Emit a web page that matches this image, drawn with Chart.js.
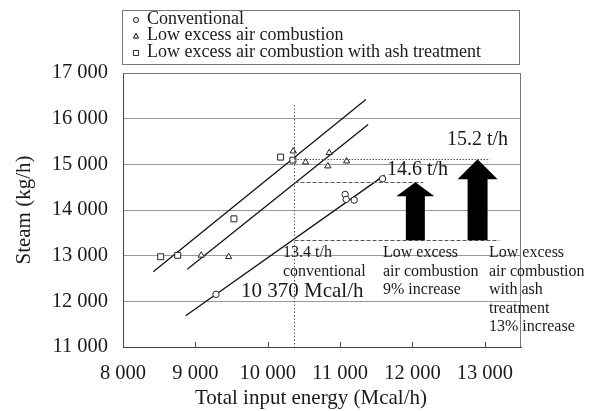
<!DOCTYPE html>
<html>
<head>
<meta charset="utf-8">
<script src="https://cdn.jsdelivr.net/npm/chart.js@4.4.1/dist/chart.umd.min.js"></script>
<style>
  html, body { margin: 0; padding: 0; background: #fff; }
  #wrap { width: 596px; height: 411px; }
</style>
</head>
<body>
<div id="wrap"><canvas id="steamChart"></canvas></div>
<script>
// measured points (Mcal/h, kg/h)
const conventionalEnergy = [9285, 11070, 11084, 11195, 11587];
const conventionalSteam = [12153, 14341, 14232, 14217, 14683];
const lowAirEnergy = [9081, 9460, 10352, 10523, 10849, 10831, 11090];
const lowAirSteam = [13007, 12976, 15289, 15048, 15252, 14961, 15070];
const ashEnergy = [8521, 8756, 9533, 10178, 10348];
const ashSteam = [12976, 13007, 13807, 15158, 15092];

// fitted lines, both ends
const conventionalFitEnergy = [8866, 11615];
const conventionalFitSteam = [11685, 14764];
const lowAirFitEnergy = [8888, 11388];
const lowAirFitSteam = [12700, 15873];
const ashFitEnergy = [8418, 11356];
const ashFitSteam = [12648, 16420];

const seriesNames = ['Conventional', 'Low excess air combustion', 'Low excess air combustion with ash treatment'];
const xTicks = [8000, 9000, 10000, 11000, 12000, 13000];
const yTicks = [11000, 12000, 13000, 14000, 15000, 16000, 17000];

// reference energy and steam levels (13.4, 14.6, 15.2 t/h marks)
const refEnergy = 10370;
const refLineTop = 16300;
const levelSteam = [13340, 14610, 15110];
const levelEnd = [13200, 12150, 13070];
const arrowEnergy = [12040, 12900];
const arrowTo = [14610, 15110];

const serif = "'Liberation Serif', 'DejaVu Serif', serif";
const ink = '#1a1a1a';

const pts = (xs, ys) => xs.map((x, i) => ({ x: x, y: ys[i] }));
const fmt = v => String(v).replace(/\B(?=(\d{3})+(?!\d))/g, ' ');

const markerStyles = ['circle', 'triangle', 'rect'];
const markerRadius = [3.2, 3.6, 4.2];

const notes = [
    { text: '15.2 t/h', x: 447, y: 140, size: 20 },
    { text: '14.6 t/h', x: 387, y: 170, size: 20 },
    { text: '13.4 t/h', x: 283, y: 253, size: 16 },
    { text: 'conventional', x: 283, y: 272, size: 16 },
    { text: '10 370 Mcal/h', x: 241, y: 291, size: 21 },
    { text: 'Low excess', x: 383, y: 253, size: 16 },
    { text: 'air combustion', x: 383, y: 272, size: 16 },
    { text: '9% increase', x: 383, y: 290, size: 16 },
    { text: 'Low excess', x: 489, y: 253, size: 16 },
    { text: 'air combustion', x: 489, y: 272, size: 16 },
    { text: 'with ash', x: 489, y: 290, size: 16 },
    { text: 'treatment', x: 489, y: 309, size: 16 },
    { text: '13% increase', x: 489, y: 327, size: 16 }
];

const annotate = {
    id: 'annotate',
    afterDatasetsDraw(chart) {
        const ctx = chart.ctx;
        const xs = chart.scales.x, ys = chart.scales.y;
        const a = chart.chartArea;
        ctx.save();

        // frame on top and right
        ctx.strokeStyle = '#777';
        ctx.lineWidth = 1;
        ctx.beginPath();
        ctx.moveTo(a.left, a.top + 0.5);
        ctx.lineTo(a.right - 0.5, a.top + 0.5);
        ctx.lineTo(a.right - 0.5, a.bottom);
        ctx.stroke();

        // inward ticks on the x axis
        ctx.strokeStyle = '#444';
        xTicks.slice(1).forEach(v => {
            const px = Math.round(xs.getPixelForValue(v)) + 0.5;
            ctx.beginPath();
            ctx.moveTo(px, a.bottom);
            ctx.lineTo(px, a.bottom - 5);
            ctx.stroke();
        });

        // reference vertical dotted line
        const rx = xs.getPixelForValue(refEnergy);
        ctx.strokeStyle = '#555';
        ctx.setLineDash([1.5, 2]);
        ctx.beginPath();
        ctx.moveTo(rx, ys.getPixelForValue(refLineTop));
        ctx.lineTo(rx, a.bottom);
        ctx.stroke();

        // horizontal level lines
        const dashes = [[4, 2], [4, 2], [1.5, 1.5]];
        levelSteam.forEach((s, i) => {
            const py = Math.round(ys.getPixelForValue(s)) + 0.5;
            ctx.setLineDash(dashes[i]);
            ctx.beginPath();
            ctx.moveTo(rx, py);
            ctx.lineTo(xs.getPixelForValue(levelEnd[i]), py);
            ctx.stroke();
        });
        ctx.setLineDash([]);

        // arrows
        const shaftHalf = [9.5, 10];
        const headHalf = [19, 20];
        const headLen = [14, 20];
        ctx.fillStyle = '#000';
        arrowEnergy.forEach((e, i) => {
            const cx = xs.getPixelForValue(e);
            const yb = ys.getPixelForValue(levelSteam[0]);
            const yt = ys.getPixelForValue(arrowTo[i]);
            const yh = yt + headLen[i];
            ctx.beginPath();
            ctx.moveTo(cx - shaftHalf[i], yb);
            ctx.lineTo(cx - shaftHalf[i], yh);
            ctx.lineTo(cx - headHalf[i], yh);
            ctx.lineTo(cx, yt);
            ctx.lineTo(cx + headHalf[i], yh);
            ctx.lineTo(cx + shaftHalf[i], yh);
            ctx.lineTo(cx + shaftHalf[i], yb);
            ctx.closePath();
            ctx.fill();
        });

        // text notes
        ctx.fillStyle = ink;
        ctx.textAlign = 'left';
        ctx.textBaseline = 'middle';
        notes.forEach(n => {
            ctx.font = n.size + 'px ' + serif;
            ctx.fillText(n.text, n.x, n.y);
        });

        // x axis title, centred under the tick labels
        ctx.textAlign = 'center';
        ctx.font = '21px ' + serif;
        ctx.fillText('Total input energy (Mcal/h)', 311, 398);
        ctx.restore();
    },
    afterDraw(chart) {
        // legend box at top
        const ctx = chart.ctx;
        ctx.save();
        ctx.strokeStyle = '#777';
        ctx.lineWidth = 1;
        ctx.strokeRect(122.5, 10.5, 397, 54);
        ctx.font = '18px ' + serif;
        ctx.textAlign = 'left';
        ctx.textBaseline = 'middle';
        seriesNames.forEach((name, i) => {
            const y = 19 + i * 16.5;
            Chart.helpers.drawPoint(ctx, {
                pointStyle: markerStyles[i], radius: [2.4, 3, 3.6][i], rotation: 0, borderWidth: 1
            }, 136, y + 1);
            ctx.fillStyle = '#fff';
            ctx.strokeStyle = '#333';
            ctx.fill();
            ctx.stroke();
            ctx.fillStyle = ink;
            ctx.fillText(name, 147, y);
        });
        ctx.restore();
    }
};

const scatterSet = (label, xs, ys, i) => ({
    type: 'scatter',
    label: label,
    data: pts(xs, ys),
    pointStyle: markerStyles[i],
    pointRadius: markerRadius[i],
    pointBackgroundColor: '#fff',
    pointBorderColor: '#222',
    pointBorderWidth: 1,
    order: 1
});

const fitSet = (xs, ys) => ({
    type: 'line',
    data: pts(xs, ys),
    borderColor: '#111',
    borderWidth: 1.3,
    pointRadius: 0,
    fill: false,
    order: 2
});

new Chart(document.getElementById('steamChart'), {
    data: {
        datasets: [
            fitSet(conventionalFitEnergy, conventionalFitSteam),
            fitSet(lowAirFitEnergy, lowAirFitSteam),
            fitSet(ashFitEnergy, ashFitSteam),
            scatterSet(seriesNames[0], conventionalEnergy, conventionalSteam, 0),
            scatterSet(seriesNames[1], lowAirEnergy, lowAirSteam, 1),
            scatterSet(seriesNames[2], ashEnergy, ashSteam, 2)
        ]
    },
    options: {
        responsive: true,
        maintainAspectRatio: false,
        animation: false,
        layout: { padding: { top: 73, right: 75, left: 0, bottom: 0 } },
        plugins: { legend: { display: false }, tooltip: { enabled: false } },
        scales: {
            x: {
                type: 'linear',
                min: 8000,
                max: 13500,
                afterBuildTicks: s => { s.ticks = xTicks.map(v => ({ value: v })); },
                afterFit: s => { s.height = 64; },
                grid: { display: false, drawTicks: false },
                border: { color: '#444' },
                ticks: {
                    padding: 14,
                    maxRotation: 0,
                    color: ink,
                    font: { family: serif, size: 20.5 },
                    callback: v => fmt(v)
                }
            },
            y: {
                type: 'linear',
                min: 11000,
                max: 17000,
                afterBuildTicks: s => { s.ticks = yTicks.map(v => ({ value: v })); },
                afterFit: s => { s.width = 123; },
                grid: { color: '#999', lineWidth: 1, drawTicks: false },
                border: { color: '#444' },
                ticks: {
                    padding: 15,
                    color: ink,
                    font: { family: serif, size: 20.5 },
                    callback: v => fmt(v)
                },
                title: {
                    display: true,
                    text: 'Steam (kg/h)',
                    color: ink,
                    font: { family: serif, size: 21 },
                    padding: { top: 12, bottom: 0 }
                }
            }
        }
    },
    plugins: [annotate]
});
</script>
</body>
</html>
